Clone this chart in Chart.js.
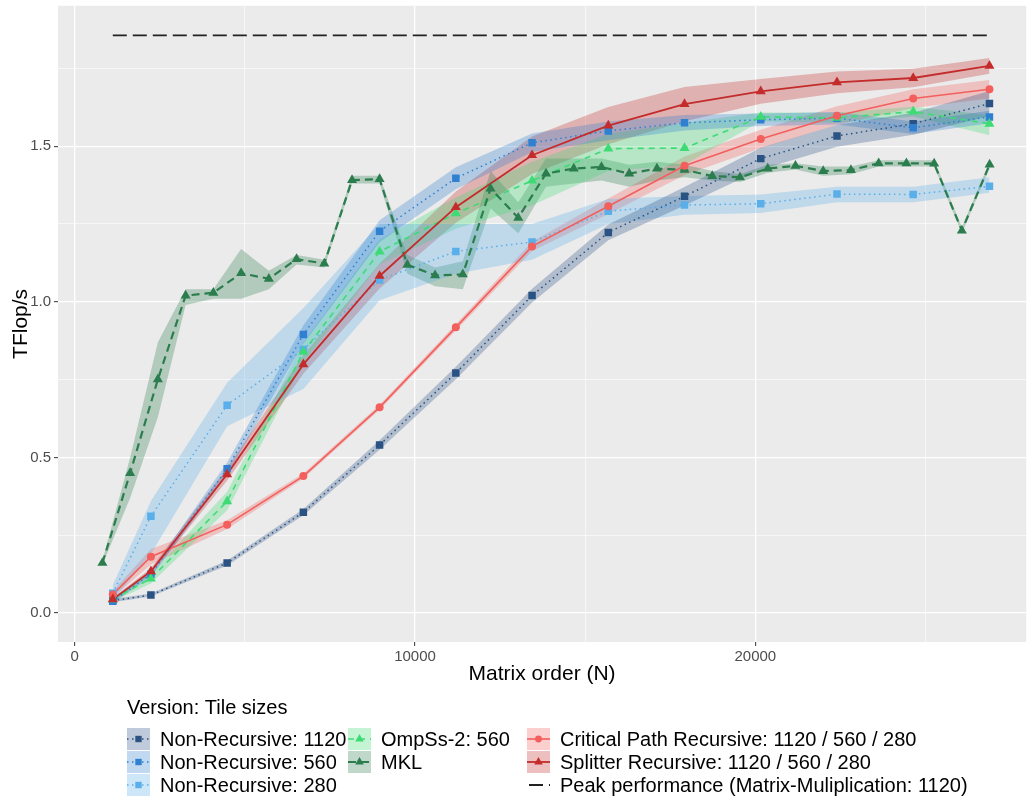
<!DOCTYPE html>
<html lang="en">
<head>
  <meta charset="UTF-8">
  <title>TFlop/s by matrix order</title>
  <script src="https://cdn.jsdelivr.net/npm/chart.js"></script>
  <style>
    body { margin: 0; background: #fff; }
    #wrap { width: 1032px; height: 799px; }
  </style>
</head>
<body>
<div id="wrap"><canvas id="perfChart" width="1032" height="799"></canvas></div>
<script>
  // Matrix orders of the tiled versions
  const sizes = [1120, 2240, 4480, 6720, 8960, 11200, 13440, 15680, 17920, 20160, 22400, 24640, 26880];
  // MKL was measured on a finer grid
  const mklSizes = [815, 1630, 2445, 3260, 4075, 4890, 5705, 6520, 7335, 8150, 8960, 9775, 10590, 11405, 12220,
    13035, 13850, 14665, 15480, 16295, 17110, 17920, 18735, 19550, 20365, 21180, 21995, 22810, 23625, 24440,
    25255, 26070, 26885];

  const nr1120   = [0.040, 0.058, 0.161, 0.324, 0.540, 0.771, 1.020, 1.223, 1.339, 1.460, 1.533, 1.572, 1.637];
  const nr1120Lo = [0.035, 0.053, 0.153, 0.314, 0.525, 0.751, 0.998, 1.198, 1.309, 1.425, 1.498, 1.537, 1.597];
  const nr1120Hi = [0.045, 0.063, 0.169, 0.334, 0.555, 0.791, 1.042, 1.248, 1.369, 1.495, 1.568, 1.607, 1.677];

  const nr560   = [0.038, 0.125, 0.464, 0.895, 1.227, 1.397, 1.511, 1.549, 1.575, 1.585, 1.590, 1.559, 1.594];
  const nr560Lo = [0.033, 0.115, 0.444, 0.865, 1.192, 1.362, 1.481, 1.519, 1.550, 1.565, 1.570, 1.539, 1.574];
  const nr560Hi = [0.043, 0.135, 0.484, 0.925, 1.262, 1.432, 1.541, 1.579, 1.600, 1.605, 1.610, 1.579, 1.614];

  const nr280   = [0.064, 0.311, 0.668, 0.847, 1.070, 1.162, 1.192, 1.291, 1.311, 1.315, 1.346, 1.345, 1.371];
  const nr280Lo = [0.040, 0.190, 0.600, 0.720, 1.005, 1.090, 1.135, 1.250, 1.280, 1.285, 1.320, 1.320, 1.350];
  const nr280Hi = [0.090, 0.360, 0.740, 0.980, 1.250, 1.250, 1.250, 1.330, 1.340, 1.345, 1.370, 1.370, 1.400];

  const ompss   = [0.044, 0.111, 0.359, 0.839, 1.161, 1.284, 1.389, 1.492, 1.494, 1.594, 1.591, 1.611, 1.572];
  const ompssLo = [0.036, 0.095, 0.330, 0.805, 1.120, 1.235, 1.310, 1.420, 1.440, 1.580, 1.575, 1.595, 1.535];
  const ompssHi = [0.052, 0.128, 0.390, 0.870, 1.200, 1.335, 1.450, 1.540, 1.575, 1.608, 1.607, 1.627, 1.600];

  const mkl   = [0.161, 0.450, 0.751, 1.020, 1.029, 1.092, 1.074, 1.137, 1.123, 1.391, 1.394, 1.119, 1.085, 1.088, 1.364,
    1.270, 1.412, 1.428, 1.433, 1.412, 1.428, 1.424, 1.404, 1.400, 1.428, 1.437, 1.420, 1.423, 1.445, 1.445,
    1.444, 1.229, 1.441];
  const mklLo = [0.155, 0.370, 0.630, 0.990, 1.010, 1.010, 1.040, 1.120, 1.110, 1.380, 1.380, 1.090, 1.050, 1.040, 1.300,
    1.220, 1.370, 1.380, 1.390, 1.370, 1.390, 1.400, 1.390, 1.385, 1.415, 1.425, 1.405, 1.410, 1.435, 1.435,
    1.435, 1.220, 1.430];
  const mklHi = [0.168, 0.500, 0.870, 1.040, 1.040, 1.170, 1.100, 1.150, 1.135, 1.405, 1.405, 1.150, 1.110, 1.130, 1.420,
    1.320, 1.460, 1.460, 1.460, 1.440, 1.450, 1.440, 1.420, 1.410, 1.440, 1.445, 1.435, 1.435, 1.455, 1.455,
    1.455, 1.240, 1.450];

  const critPath   = [0.060, 0.181, 0.284, 0.440, 0.661, 0.918, 1.178, 1.307, 1.437, 1.523, 1.598, 1.653, 1.683];
  const critPathLo = [0.050, 0.156, 0.270, 0.432, 0.653, 0.908, 1.163, 1.282, 1.407, 1.493, 1.568, 1.623, 1.653];
  const critPathHi = [0.070, 0.206, 0.298, 0.448, 0.669, 0.928, 1.193, 1.332, 1.467, 1.553, 1.628, 1.683, 1.713];

  const splitter   = [0.044, 0.134, 0.446, 0.799, 1.083, 1.304, 1.471, 1.566, 1.635, 1.676, 1.705, 1.719, 1.758];
  const splitterLo = [0.039, 0.124, 0.426, 0.769, 1.043, 1.254, 1.411, 1.506, 1.580, 1.636, 1.670, 1.689, 1.733];
  const splitterHi = [0.049, 0.144, 0.466, 0.829, 1.123, 1.354, 1.531, 1.626, 1.690, 1.716, 1.740, 1.749, 1.783];

  const peakSizes = [1120, 26880];
  const peakValue = [1.856, 1.856];

  const xTicks = [0, 5000, 10000, 15000, 20000, 25000];
  const yTicks = [0, 0.25, 0.5, 0.75, 1, 1.25, 1.5, 1.75];

  const FONT = '"Liberation Sans", Arial, sans-serif';

  const series = [
    { name: 'Non-Recursive: 1120', x: sizes, y: nr1120, lo: nr1120Lo, hi: nr1120Hi, color: '#2a5283', dash: [1.5, 3.5], width: 1.5, point: 'rect', r: 5.3 },
    { name: 'Non-Recursive: 560', x: sizes, y: nr560, lo: nr560Lo, hi: nr560Hi, color: '#2f80d0', dash: [1.5, 3.5], width: 1.5, point: 'rect', r: 5.3 },
    { name: 'Non-Recursive: 280', x: sizes, y: nr280, lo: nr280Lo, hi: nr280Hi, color: '#5aaeea', dash: [1.5, 3.5], width: 1.5, point: 'rect', r: 5.3 },
    { name: 'OmpSs-2: 560', x: sizes, y: ompss, lo: ompssLo, hi: ompssHi, color: '#3edb74', dash: [6, 5], width: 1.6, point: 'triangle', r: 5.8 },
    { name: 'MKL', x: mklSizes, y: mkl, lo: mklLo, hi: mklHi, color: '#2b7d4e', dash: [8, 5], width: 2.2, point: 'triangle', r: 5.8 },
    { name: 'Critical Path Recursive: 1120 / 560 / 280', x: sizes, y: critPath, lo: critPathLo, hi: critPathHi, color: '#f25f5c', dash: [], width: 1.6, point: 'circle', r: 4 },
    { name: 'Splitter Recursive: 1120 / 560 / 280', x: sizes, y: splitter, lo: splitterLo, hi: splitterHi, color: '#c42c2c', dash: [], width: 1.8, point: 'triangle', r: 5.8 }
  ];
  const peak = { name: 'Peak performance (Matrix-Muliplication: 1120)', color: '#222222', dash: [14, 6], width: 1.8 };

  function alpha(hex, a) {
    const n = parseInt(hex.slice(1), 16);
    return `rgba(${(n >> 16) & 255}, ${(n >> 8) & 255}, ${n & 255}, ${a})`;
  }
  const pts = (xs, ys) => xs.map((x, i) => ({ x: x, y: ys[i] }));

  // ribbons first, then lines, then points (like the ggplot layers)
  const datasets = [];
  series.forEach(s => {
    datasets.push({ data: pts(s.x, s.lo), borderColor: 'transparent', borderWidth: 0, pointRadius: 0, fill: false, order: 40 });
    datasets.push({ data: pts(s.x, s.hi), borderColor: 'transparent', borderWidth: 0, pointRadius: 0,
      fill: '-1', backgroundColor: alpha(s.color, 0.3), order: 40 });
  });
  series.forEach((s, i) => {
    datasets.push({ data: pts(s.x, s.y), borderColor: s.color, borderWidth: s.width, borderDash: s.dash,
      pointRadius: 0, fill: false, tension: 0, order: 30 - i });
  });
  datasets.push({ data: pts(peakSizes, peakValue), borderColor: peak.color, borderWidth: peak.width,
    borderDash: peak.dash, pointRadius: 0, fill: false, order: 20 });
  series.forEach((s, i) => {
    datasets.push({ data: pts(s.x, s.y), showLine: false, pointStyle: s.point, pointRadius: s.r,
      pointBackgroundColor: s.color, pointBorderWidth: 0, pointBorderColor: s.color, fill: false, order: 10 - i });
  });

  function drawMarker(ctx, style, x, y, r) {
    ctx.beginPath();
    if (style === 'rect') {
      const h = r * Math.SQRT1_2;
      ctx.rect(x - h, y - h, 2 * h, 2 * h);
    } else if (style === 'triangle') {
      for (let k = 0; k < 3; k++) {
        const a = k * 2 * Math.PI / 3;
        const px = x + Math.sin(a) * r, py = y - Math.cos(a) * r;
        if (k === 0) ctx.moveTo(px, py); else ctx.lineTo(px, py);
      }
      ctx.closePath();
    } else {
      ctx.arc(x, y, r, 0, Math.PI * 2);
    }
    ctx.fill();
  }

  // panel background, axis titles and the legend below the plot
  const ggDecor = {
    id: 'ggDecor',
    beforeDraw(chart) {
      const { ctx, chartArea: a } = chart;
      ctx.save();
      ctx.fillStyle = '#ffffff';
      ctx.fillRect(0, 0, chart.width, chart.height);
      ctx.fillStyle = '#ebebeb';
      ctx.fillRect(a.left, a.top, a.right - a.left, a.bottom - a.top);
      ctx.restore();
    },
    afterDraw(chart) {
      const { ctx, chartArea: a } = chart;
      ctx.save();
      ctx.fillStyle = '#000';
      ctx.font = '21px ' + FONT;
      ctx.textAlign = 'center';
      ctx.textBaseline = 'middle';
      ctx.fillText('Matrix order (N)', (a.left + a.right) / 2, 674);
      ctx.save();
      ctx.translate(21, (a.top + a.bottom) / 2);
      ctx.rotate(-Math.PI / 2);
      ctx.fillText('TFlop/s', 0, 0);
      ctx.restore();

      ctx.textAlign = 'left';
      ctx.font = '20px ' + FONT;
      ctx.fillText('Version: Tile sizes', 127, 708);

      const cols = [127, 348, 527];
      const rows = [739, 762, 785];
      const slots = [[0, 0], [0, 1], [0, 2], [1, 0], [1, 1], [2, 0], [2, 1]];
      const kw = 23, kh = 22;
      series.forEach((s, i) => {
        const x = cols[slots[i][0]], y = rows[slots[i][1]];
        ctx.fillStyle = alpha(s.color, 0.3);
        ctx.fillRect(x, y - kh / 2, kw, kh);
        ctx.strokeStyle = s.color;
        ctx.lineWidth = s.width;
        ctx.setLineDash(s.dash);
        ctx.beginPath();
        ctx.moveTo(x, y);
        ctx.lineTo(x + kw, y);
        ctx.stroke();
        ctx.setLineDash([]);
        ctx.fillStyle = s.color;
        drawMarker(ctx, s.point, x + kw / 2, y, s.r * 0.85);
        ctx.fillStyle = '#000';
        ctx.fillText(s.name, x + 33, y + 1);
      });
      // peak performance key
      const px = cols[2], py = rows[2];
      ctx.strokeStyle = peak.color;
      ctx.lineWidth = peak.width;
      ctx.setLineDash(peak.dash);
      ctx.beginPath();
      ctx.moveTo(px + 2, py);
      ctx.lineTo(px + kw, py);
      ctx.stroke();
      ctx.setLineDash([]);
      ctx.fillStyle = '#000';
      ctx.fillText(peak.name, px + 33, py + 1);
      ctx.restore();
    }
  };

  const isMajorX = v => v % 10000 === 0;
  const isMajorY = v => Math.abs(v * 2 - Math.round(v * 2)) < 1e-9;

  new Chart(document.getElementById('perfChart').getContext('2d'), {
    type: 'line',
    data: { datasets: datasets },
    plugins: [ggDecor],
    options: {
      responsive: false,
      animation: false,
      layout: { padding: { left: 0, right: 2, top: 3, bottom: 117 } },
      plugins: {
        legend: { display: false },
        tooltip: { enabled: false },
        filler: { drawTime: 'beforeDatasetsDraw', propagate: false }
      },
      scales: {
        x: {
          type: 'linear',
          min: -490,
          max: 27960,
          afterFit: s => { s.height = 40; s.paddingLeft = 0; s.paddingRight = 0; },
          afterBuildTicks: s => { s.ticks = xTicks.map(v => ({ value: v })); },
          border: { display: false },
          grid: {
            color: '#ffffff',
            lineWidth: c => isMajorX(c.tick.value) ? 1.3 : 0.6,
            tickColor: c => isMajorX(c.tick.value) ? '#333333' : 'rgba(0,0,0,0)',
            tickLength: 4,
            tickWidth: 1
          },
          ticks: {
            autoSkip: false,
            maxRotation: 0,
            padding: 2,
            color: '#4d4d4d',
            font: { family: FONT, size: 15 },
            callback: v => isMajorX(v) ? String(v) : ''
          }
        },
        y: {
          min: -0.093,
          max: 1.951,
          afterFit: s => { s.width = 58; s.paddingTop = 0; s.paddingBottom = 0; },
          afterBuildTicks: s => { s.ticks = yTicks.map(v => ({ value: v })); },
          border: { display: false },
          grid: {
            color: '#ffffff',
            lineWidth: c => isMajorY(c.tick.value) ? 1.3 : 0.6,
            tickColor: c => isMajorY(c.tick.value) ? '#333333' : 'rgba(0,0,0,0)',
            tickLength: 4,
            tickWidth: 1
          },
          ticks: {
            autoSkip: false,
            padding: 3,
            color: '#4d4d4d',
            font: { family: FONT, size: 15 },
            callback: v => isMajorY(v) ? v.toFixed(1) : ''
          }
        }
      }
    }
  });
</script>
</body>
</html>
